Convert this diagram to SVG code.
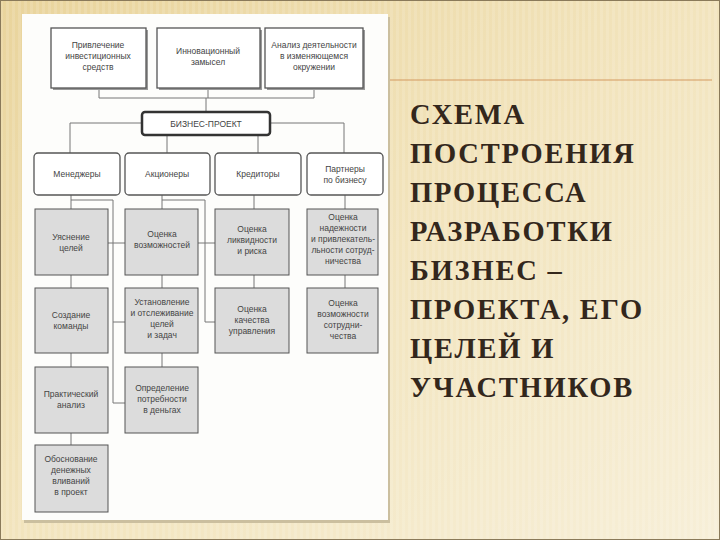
<svg xmlns="http://www.w3.org/2000/svg" width="720" height="540" viewBox="0 0 720 540">
<defs>
<linearGradient id="bg" x1="0" y1="0" x2="1" y2="1">
<stop offset="0" stop-color="#e9d49c"/><stop offset="0.5" stop-color="#f2e4bd"/><stop offset="1" stop-color="#f7efd8"/>
</linearGradient>
<pattern id="stripes" width="6" height="10" patternUnits="userSpaceOnUse">
<rect width="3" height="10" fill="#fff" opacity="0.12"/>
</pattern>
</defs>
<style>
.b{fill:#fff;stroke:#555;stroke-width:1.3}
.g{fill:#dcdcdc;stroke:#555;stroke-width:1}
.t{font-family:"Liberation Sans",Arial,sans-serif;font-size:8.5px;fill:#444;text-anchor:middle}
.h{font-family:"Liberation Serif","Times New Roman",serif;font-size:28.5px;font-weight:bold;fill:#33271c;letter-spacing:1.8px}
#conn line,#conn polyline{stroke:#777;stroke-width:1;fill:none}
</style>
<rect width="720" height="540" fill="url(#bg)"/>
<rect width="720" height="540" fill="url(#stripes)"/>
<rect x="0.5" y="0.5" width="719" height="539" fill="none" stroke="#8a7a5a"/>
<rect x="24" y="17" width="366" height="506" fill="#cbbf9f"/>
<rect x="22" y="14" width="366" height="506" fill="#fdfdfb"/>
<line x1="390" y1="80" x2="712" y2="80" stroke="#d49a60" stroke-width="1.2"/>
<g id="conn">
<polyline points="99,90 99,98 314,98 314,90"/><line x1="208" y1="90" x2="208" y2="98"/><line x1="206" y1="98" x2="206" y2="112"/>
<polyline points="142,123 70,123 70,153"/><polyline points="270,123 344,123 344,153"/>
<line x1="167" y1="135" x2="167" y2="153"/><line x1="258" y1="135" x2="258" y2="153"/>
<line x1="71" y1="195" x2="71" y2="209"/><line x1="71" y1="275" x2="71" y2="288"/><line x1="71" y1="353" x2="71" y2="367"/><line x1="71" y1="433" x2="71" y2="445"/>
<polyline points="71,200 113,200 113,403 125,403"/><line x1="108" y1="243" x2="125" y2="243"/><line x1="113" y1="322" x2="125" y2="322"/>
<line x1="162" y1="195" x2="162" y2="209"/><polyline points="162,200 205,200 205,322 215,322"/><line x1="198" y1="243" x2="215" y2="243"/>
<line x1="162" y1="275" x2="162" y2="288"/><line x1="162" y1="353" x2="162" y2="367"/>
<line x1="254" y1="195" x2="254" y2="209"/><line x1="254" y1="275" x2="254" y2="288"/>
<line x1="345" y1="195" x2="345" y2="209"/><line x1="345" y1="275" x2="345" y2="288"/>
</g>
<g id="n1"><rect x="53" y="30" width="95" height="60" fill="#999"/><rect class="b" x="51" y="28" width="95" height="60"/><text class="t" x="98" y="48">Привлечение</text><text class="t" x="98" y="59">инвестиционных</text><text class="t" x="98" y="70">средств</text></g>
<g id="n2"><rect x="159" y="30" width="103" height="60" fill="#999"/><rect class="b" x="157" y="28" width="103" height="60"/><text class="t" x="208" y="54">Инновационный</text><text class="t" x="208" y="65">замысел</text></g>
<g id="n3"><rect x="267" y="30" width="98" height="60" fill="#999"/><rect class="b" x="265" y="28" width="98" height="60"/><text class="t" x="314" y="48">Анализ деятельности</text><text class="t" x="314" y="59">в изменяющемся</text><text class="t" x="314" y="70">окружении</text></g>
<g id="bp"><rect x="142" y="112" width="128" height="23" rx="3" fill="#fff" stroke="#333" stroke-width="2.5"/><text class="t" x="206" y="127">БИЗНЕС-ПРОЕКТ</text></g>
<g id="m"><rect class="b" x="34" y="153" width="86" height="42" rx="4"/><text class="t" x="77" y="177">Менеджеры</text></g>
<g id="a"><rect class="b" x="125" y="153" width="85" height="42" rx="4"/><text class="t" x="167" y="177">Акционеры</text></g>
<g id="k"><rect class="b" x="215" y="153" width="86" height="42" rx="4"/><text class="t" x="258" y="177">Кредиторы</text></g>
<g id="p"><rect class="b" x="307" y="153" width="76" height="42" rx="4"/><text class="t" x="345" y="172">Партнеры</text><text class="t" x="345" y="183">по бизнесу</text></g>
<g id="r31"><rect class="g" x="35" y="209" width="73" height="66"/><text class="t" x="71" y="240">Уяснение</text><text class="t" x="71" y="251">целей</text></g>
<g id="r32"><rect class="g" x="125" y="209" width="73" height="66"/><text class="t" x="162" y="237">Оценка</text><text class="t" x="162" y="248">возможностей</text></g>
<g id="r33"><rect class="g" x="215" y="209" width="74" height="66"/><text class="t" x="252" y="232">Оценка</text><text class="t" x="252" y="243">ликвидности</text><text class="t" x="252" y="254">и риска</text></g>
<g id="r34"><rect class="g" x="307" y="209" width="71" height="66"/><text class="t" x="343" y="220">Оценка</text><text class="t" x="343" y="231">надежности</text><text class="t" x="343" y="242">и привлекатель-</text><text class="t" x="343" y="253">льности сотруд-</text><text class="t" x="343" y="264">ничества</text></g>
<g id="r41"><rect class="g" x="35" y="288" width="73" height="65"/><text class="t" x="71" y="318">Создание</text><text class="t" x="71" y="329">команды</text></g>
<g id="r42"><rect class="g" x="125" y="288" width="73" height="65"/><text class="t" x="162" y="305">Установление</text><text class="t" x="162" y="316">и отслеживание</text><text class="t" x="162" y="327">целей</text><text class="t" x="162" y="338">и задач</text></g>
<g id="r43"><rect class="g" x="215" y="288" width="74" height="65"/><text class="t" x="252" y="312">Оценка</text><text class="t" x="252" y="323">качества</text><text class="t" x="252" y="334">управления</text></g>
<g id="r44"><rect class="g" x="307" y="288" width="71" height="65"/><text class="t" x="343" y="306">Оценка</text><text class="t" x="343" y="317">возможности</text><text class="t" x="343" y="328">сотрудни-</text><text class="t" x="343" y="339">чества</text></g>
<g id="r51"><rect class="g" x="35" y="367" width="73" height="66"/><text class="t" x="71" y="397">Практический</text><text class="t" x="71" y="408">анализ</text></g>
<g id="r52"><rect class="g" x="125" y="367" width="73" height="66"/><text class="t" x="162" y="391">Определение</text><text class="t" x="162" y="402">потребности</text><text class="t" x="162" y="413">в деньгах</text></g>
<g id="r61"><rect class="g" x="35" y="445" width="73" height="67"/><text class="t" x="71" y="462">Обоснование</text><text class="t" x="71" y="473">денежных</text><text class="t" x="71" y="484">вливаний</text><text class="t" x="71" y="495">в проект</text></g>
<g id="title">
<text class="h" x="410" y="124">СХЕМА</text>
<text class="h" x="410" y="163">ПОСТРОЕНИЯ</text>
<text class="h" x="410" y="202">ПРОЦЕССА</text>
<text class="h" x="410" y="241">РАЗРАБОТКИ</text>
<text class="h" x="410" y="280">БИЗНЕС –</text>
<text class="h" x="410" y="319">ПРОЕКТА, ЕГО</text>
<text class="h" x="410" y="358">ЦЕЛЕЙ И</text>
<text class="h" x="410" y="397">УЧАСТНИКОВ</text>
</g>
</svg>
